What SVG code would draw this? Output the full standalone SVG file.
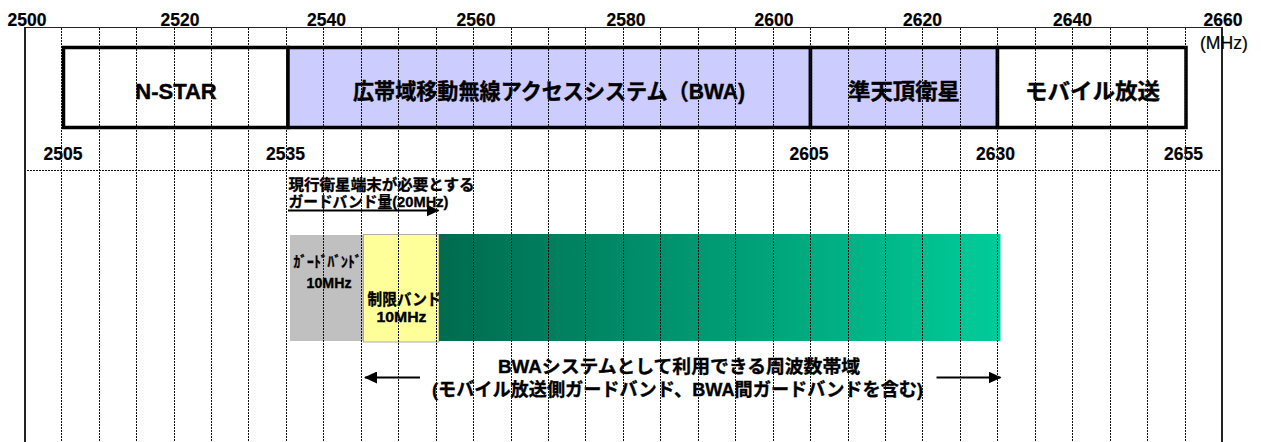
<svg xmlns="http://www.w3.org/2000/svg" width="1261" height="442" viewBox="0 0 1261 442">
<style>
  text { font-family: "Liberation Sans", "Noto Sans CJK JP", sans-serif; fill: #000; }
  .b { font-weight: bold; stroke: #000; stroke-width: 0.35; }
  .axis { font-size: 17.5px; font-weight: bold; text-anchor: middle; stroke: #000; stroke-width: 0.2; }
  .lbl { font-size: 22px; font-weight: bold; text-anchor: middle; stroke: #000; stroke-width: 0.4; }
  .box { stroke: #000; stroke-width: 3.5; }
  .grid line { stroke: #111; stroke-width: 1; stroke-dasharray: 2 1; }
  .solid { stroke: #222; fill: none; }
  .conn { stroke: #000; stroke-width: 2; fill: none; }
</style>
<defs>
  <linearGradient id="green" x1="0" y1="0" x2="1" y2="0">
    <stop offset="0" stop-color="#006B4F"/>
    <stop offset="1" stop-color="#00CC99"/>
  </linearGradient>
  <marker id="ah" markerWidth="13" markerHeight="12" refX="12" refY="6" orient="auto" markerUnits="userSpaceOnUse">
    <path d="M0,0 L13,6 L0,12 Z" fill="#000"/>
  </marker>
</defs>
<rect width="1261" height="442" fill="#fff"/>

<!-- axis frame -->
<g id="axis">
  <line class="solid" x1="24" y1="27.5" x2="1222.5" y2="27.5" stroke-width="1.2"/>
  <line class="solid" x1="25" y1="27" x2="25" y2="442" stroke-width="2"/>
  <line class="solid" x1="1222" y1="27" x2="1222" y2="442" stroke-width="2"/>
  <text class="axis" x="27" y="26">2500</text>
  <text class="axis" x="180" y="26">2520</text>
  <text class="axis" x="326.5" y="26">2540</text>
  <text class="axis" x="476" y="26">2560</text>
  <text class="axis" x="626" y="26">2580</text>
  <text class="axis" x="774" y="26">2600</text>
  <text class="axis" x="922.5" y="26">2620</text>
  <text class="axis" x="1072.5" y="26">2640</text>
  <text class="axis" x="1223" y="26">2660</text>
  <text x="1224" y="49" font-size="18" text-anchor="middle" textLength="48" lengthAdjust="spacingAndGlyphs" stroke="#000" stroke-width="0.2">(MHz)</text>
  <text class="axis" x="63" y="160">2505</text>
  <text class="axis" x="285.5" y="160">2535</text>
  <text class="axis" x="809" y="160">2605</text>
  <text class="axis" x="995.5" y="160">2630</text>
  <text class="axis" x="1183.5" y="160">2655</text>
</g>

<!-- allocation boxes -->
<g id="nstar">
  <rect class="box" x="63.5" y="47.5" width="224.5" height="80" fill="#fff"/>
  <text class="lbl" x="176" y="98.5">N-STAR</text>
</g>
<g id="bwa">
  <rect class="box" x="288" y="47.5" width="522.5" height="80" fill="#CCCCFF"/>
  <text class="lbl" x="549" y="98.5" textLength="392" lengthAdjust="spacingAndGlyphs">広帯域移動無線アクセスシステム（BWA)</text>
</g>
<g id="qzs">
  <rect class="box" x="810.5" y="47.5" width="187" height="80" fill="#CCCCFF"/>
  <text class="lbl" x="904" y="98.5" textLength="112" lengthAdjust="spacingAndGlyphs">準天頂衛星</text>
</g>
<g id="mobile">
  <rect class="box" x="997.5" y="47.5" width="188.5" height="80" fill="#fff"/>
  <text class="lbl" x="1092.5" y="98.5" textLength="135" lengthAdjust="spacingAndGlyphs">モバイル放送</text>
</g>

<!-- annotation -->
<g id="note">
  <text class="b" x="288.5" y="190" font-size="15" textLength="186" lengthAdjust="spacingAndGlyphs">現行衛星端末が必要とする</text>
  <text class="b" x="288.5" y="207" font-size="15" textLength="160" lengthAdjust="spacingAndGlyphs">ガードバンド量(20MHz)</text>
</g>

<!-- band bars -->
<g id="guard">
  <rect x="290" y="235" width="73.5" height="106" fill="#C0C0C0"/>
  <text class="b" x="327.5" y="267" font-size="15" text-anchor="middle" textLength="68" lengthAdjust="spacingAndGlyphs">ｶﾞｰﾄﾞﾊﾞﾝﾄﾞ</text>
  <text class="b" x="329" y="287.5" font-size="14" text-anchor="middle" textLength="45" lengthAdjust="spacingAndGlyphs">10MHz</text>
</g>
<g id="restrict">
  <rect x="363.5" y="234.5" width="75.5" height="107.5" fill="#FFFF99" stroke="#9a9a9a" stroke-width="0.8"/>
  <text class="b" x="404.5" y="304.5" font-size="16" text-anchor="middle" textLength="74" lengthAdjust="spacingAndGlyphs">制限バンド</text>
  <text class="b" x="401.5" y="321.5" font-size="14.5" text-anchor="middle" textLength="50" lengthAdjust="spacingAndGlyphs">10MHz</text>
</g>
<g id="usable">
  <rect x="439" y="234" width="561.5" height="107" fill="url(#green)"/>
</g>
<g id="usable-label">
  <text class="b" x="679" y="372.5" font-size="18" text-anchor="middle" textLength="362" lengthAdjust="spacingAndGlyphs">BWAシステムとして利用できる周波数帯域</text>
  <text class="b" x="677.5" y="395.5" font-size="18.5" text-anchor="middle" textLength="491" lengthAdjust="spacingAndGlyphs">(モバイル放送側ガードバンド、BWA間ガードバンドを含む)</text>
</g>

<!-- connectors -->
<g id="connectors">
  <line class="conn" x1="288" y1="210.5" x2="438.5" y2="210.5" marker-end="url(#ah)"/>
  <line class="conn" x1="420" y1="377.5" x2="365" y2="377.5" marker-end="url(#ah)"/>
  <line class="conn" x1="936.5" y1="377.5" x2="1000.5" y2="377.5" marker-end="url(#ah)"/>
</g>

<!-- dotted grid -->
<g class="grid" id="grid">
  <line x1="27" y1="170.5" x2="1221" y2="170.5"/>
  <line x1="61.5" y1="28" x2="61.5" y2="442"/>
  <line x1="99.5" y1="28" x2="99.5" y2="442"/>
  <line x1="136.5" y1="28" x2="136.5" y2="442"/>
  <line x1="174.5" y1="28" x2="174.5" y2="442"/>
  <line x1="211.5" y1="28" x2="211.5" y2="442"/>
  <line x1="248.5" y1="28" x2="248.5" y2="442"/>
  <line x1="286.5" y1="28" x2="286.5" y2="442"/>
  <line x1="323.5" y1="28" x2="323.5" y2="442"/>
  <line x1="361.5" y1="28" x2="361.5" y2="442"/>
  <line x1="398.5" y1="28" x2="398.5" y2="442"/>
  <line x1="436.5" y1="28" x2="436.5" y2="442"/>
  <line x1="473.5" y1="28" x2="473.5" y2="442"/>
  <line x1="511.5" y1="28" x2="511.5" y2="442"/>
  <line x1="548.5" y1="28" x2="548.5" y2="442"/>
  <line x1="585.5" y1="28" x2="585.5" y2="442"/>
  <line x1="623.5" y1="28" x2="623.5" y2="442"/>
  <line x1="660.5" y1="28" x2="660.5" y2="442"/>
  <line x1="698.5" y1="28" x2="698.5" y2="442"/>
  <line x1="735.5" y1="28" x2="735.5" y2="442"/>
  <line x1="773.5" y1="28" x2="773.5" y2="442"/>
  <line x1="810.5" y1="28" x2="810.5" y2="442"/>
  <line x1="848.5" y1="28" x2="848.5" y2="442"/>
  <line x1="885.5" y1="28" x2="885.5" y2="442"/>
  <line x1="922.5" y1="28" x2="922.5" y2="442"/>
  <line x1="960.5" y1="28" x2="960.5" y2="442"/>
  <line x1="997.5" y1="28" x2="997.5" y2="442"/>
  <line x1="1035.5" y1="28" x2="1035.5" y2="442"/>
  <line x1="1072.5" y1="28" x2="1072.5" y2="442"/>
  <line x1="1110.5" y1="28" x2="1110.5" y2="442"/>
  <line x1="1147.5" y1="28" x2="1147.5" y2="442"/>
  <line x1="1185.5" y1="28" x2="1185.5" y2="442"/>
</g>
</svg>
